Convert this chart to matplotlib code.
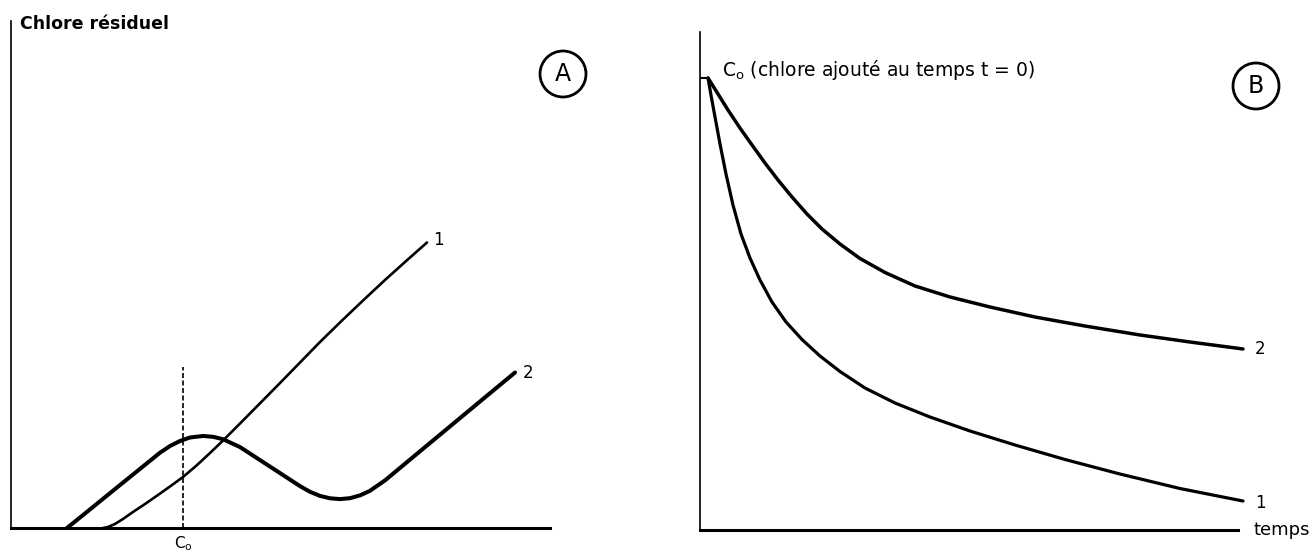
import matplotlib.pyplot as plt
from matplotlib.patches import Ellipse

# --- panel A : chlore résiduel vs dose (unités arbitraires 0-100)
a1_dose = [17.07, 18.00, 19.29, 20.78, 22.63, 24.86, 27.27, 29.50, 31.91, 34.32, 36.73,
           39.15, 42.49, 46.20, 49.91, 53.62, 57.33, 61.60, 65.31, 69.39, 73.10, 77.18]
a1_resid = [0, 0.20, 0.79, 1.78, 3.16, 4.73, 6.51, 8.19, 10.06, 12.23, 14.60,
            17.06, 20.61, 24.60, 28.60, 32.64, 36.69, 41.12, 44.87, 48.92, 52.47, 56.31]

a2_dose = [10.39, 14.66, 19.29, 23.93, 27.64, 29.50, 31.35, 33.21, 35.62, 37.48, 39.33,
           42.49, 46.20, 49.91, 53.62, 55.47, 57.33, 59.18, 61.04, 62.89, 64.75, 66.60,
           69.39, 75.88, 81.45, 87.01, 93.51]
a2_resid = [0, 3.67, 7.67, 11.66, 14.85, 16.17, 17.16, 17.85, 18.15, 17.99, 17.51,
            15.96, 13.39, 10.83, 8.26, 7.14, 6.33, 5.86, 5.70, 5.88, 6.43, 7.34,
            9.39, 15.13, 20.04, 24.95, 30.67]

co_dose = 31.9
co_top = 31.8

# --- panel B : chlore résiduel vs temps
b1_time = [1.49, 2.04, 2.79, 3.72, 4.83, 6.13, 7.62, 9.29, 11.15, 13.38, 15.99, 18.96,
           22.30, 26.02, 30.67, 36.25, 42.75, 50.19, 58.55, 67.84, 78.07, 89.22, 100.93]
b1_resid = [90.76, 87.35, 82.93, 77.51, 71.49, 65.26, 59.44, 54.62, 50.20, 45.78, 41.77, 38.25,
            34.94, 31.83, 28.51, 25.50, 22.69, 19.88, 17.07, 14.16, 11.24, 8.33, 5.82]

b2_time = [1.49, 3.35, 5.20, 7.43, 9.67, 12.08, 14.50, 17.10, 19.89, 22.68, 26.02,
           29.74, 34.39, 39.96, 46.47, 53.90, 62.27, 71.56, 81.78, 91.08, 100.93]
b2_resid = [90.76, 87.55, 84.34, 80.72, 77.31, 73.69, 70.28, 66.87, 63.45, 60.44, 57.43,
            54.52, 51.71, 49.00, 46.79, 44.78, 42.77, 40.96, 39.16, 37.75, 36.35]

co_level = 90.76

W, H = 1315, 553
fig = plt.figure(figsize=(W / 100, H / 100), dpi=100)
axA = fig.add_axes([11 / W, 25 / H, 539 / W, 507 / H])
axB = fig.add_axes([700 / W, 23 / H, 538 / W, 498 / H])

for ax in (axA, axB):
    ax.set_xlim(0, 100)
    ax.set_ylim(0, 100)
    ax.spines['top'].set_visible(False)
    ax.spines['right'].set_visible(False)
    ax.spines['left'].set_linewidth(1.2)
    ax.spines['bottom'].set_linewidth(2.2)
    ax.set_xticks([])
    ax.set_yticks([])

style = dict(color='black', clip_on=False, solid_capstyle='round', solid_joinstyle='round')

# panel A
axA.plot(a1_dose, a1_resid, lw=1.9, **style)
axA.plot(a2_dose, a2_resid, lw=2.9, **style)
axA.plot([co_dose, co_dose], [0, co_top], color='black', lw=1.2, linestyle=(0, (3, 1.5)), clip_on=False)
axA.text(a1_dose[-1] + 1.2, a1_resid[-1] + 0.5, '1', fontsize=12, va='center', ha='left')
axA.text(a2_dose[-1] + 1.5, a2_resid[-1], '2', fontsize=12, va='center', ha='left')
axA.text(co_dose, -1.2, r'C$_\mathregular{o}$', fontsize=11, ha='center', va='top')
axA.text(1.7, 99.4, 'Chlore résiduel', fontsize=12.5, fontweight='bold', ha='left', va='center')

# panel B
axB.plot(b1_time, b1_resid, lw=2.3, **style)
axB.plot(b2_time, b2_resid, lw=2.5, **style)
axB.set_yticks([co_level])
axB.tick_params(axis='y', direction='in', length=7, width=1.5, labelleft=False)
axB.text(4.1, 92.4, r'C$_\mathregular{o}$ (chlore ajouté au temps t = 0)', fontsize=13.5, ha='left', va='center')
axB.text(103.2, b2_resid[-1], '2', fontsize=12, va='center', ha='left')
axB.text(103.2, b1_resid[-1] - 0.4, '1', fontsize=12, va='center', ha='left')
axB.text(102.8, 0, 'temps', fontsize=13, va='center', ha='left')

# lettres cerclées
for label, cx, cy in [('A', 563, 74), ('B', 1256, 86)]:
    fig.text(cx / W, 1 - cy / H, label, fontsize=17, ha='center', va='center')
    fig.add_artist(Ellipse((cx / W, 1 - cy / H), 46 / W, 46 / H, transform=fig.transFigure,
                           fill=False, lw=2, color='black'))

fig.savefig('out.png', dpi=100)
